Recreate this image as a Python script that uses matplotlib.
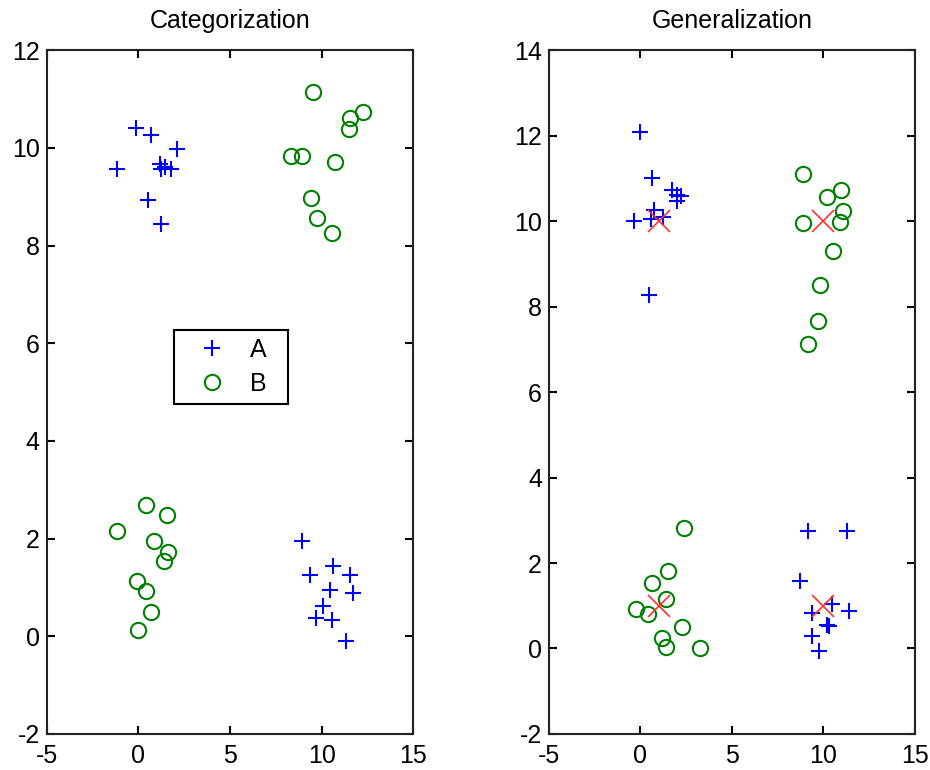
import matplotlib
matplotlib.use("Agg")
import matplotlib.pyplot as plt
from matplotlib.patches import Rectangle

plt.rcParams['font.family'] = ['Liberation Sans', 'DejaVu Sans']
plt.rcParams['axes.unicode_minus'] = False

# ---- Categorization data ----
catA_x = [-0.13, 0.67, 2.12, -1.18, 1.18, 1.22, 1.45, 1.80, 0.54, 1.23,
          8.92, 9.35, 10.61, 11.52, 10.43, 11.72, 10.07, 9.67, 10.58, 11.34]
catA_y = [10.41, 10.27, 9.97, 9.56, 9.68, 9.56, 9.60, 9.56, 8.93, 8.44,
          1.95, 1.25, 1.43, 1.25, 0.95, 0.89, 0.61, 0.37, 0.33, -0.09]
catB_x = [9.53, 12.26, 11.57, 11.48, 8.32, 8.90, 10.72, 9.44, 9.77, 10.54,
          0.40, 1.54, -1.18, 0.87, 1.63, 1.39, -0.09, 0.42, 0.67, 0.00]
catB_y = [11.14, 10.73, 10.61, 10.39, 9.83, 9.83, 9.71, 8.98, 8.56, 8.25,
          2.68, 2.49, 2.16, 1.95, 1.73, 1.54, 1.14, 0.93, 0.49, 0.12]

# ---- Generalization data ----
genA_x = [0.00, 0.65, 1.74, 2.00, 2.20, 2.00, -0.34, 0.73, 0.60, 1.23, 0.44,
          9.13, 11.31, 8.71, 10.45, 11.40, 9.35, 10.18, 10.30, 9.35, 9.73]
genA_y = [12.09, 11.01, 10.74, 10.62, 10.60, 10.47, 10.00, 10.27, 10.04, 10.09, 8.27,
          2.74, 2.74, 1.59, 1.03, 0.88, 0.83, 0.55, 0.53, 0.29, -0.05]
genB_x = [8.89, 10.22, 10.94, 11.09, 10.90, 8.90, 10.54, 9.80, 9.71, 9.13,
          2.38, 1.51, 0.64, 1.42, -0.25, 0.42, 2.27, 1.18, 1.38, 3.27]
genB_y = [11.11, 10.57, 10.74, 10.23, 9.98, 9.95, 9.30, 8.51, 7.67, 7.12,
          2.83, 1.81, 1.53, 1.16, 0.93, 0.81, 0.50, 0.25, 0.04, 0.00]
proto_x = [1, 10, 1, 10]
proto_y = [10, 10, 1, 1]

xticks = [-5, 0, 5, 10, 15]
cat_yticks = [-2, 0, 2, 4, 6, 8, 10, 12]
gen_yticks = [-2, 0, 2, 4, 6, 8, 10, 12, 14]

fig = plt.figure(figsize=(9.3, 7.7), dpi=100)
ax1 = fig.add_axes([0.0502, 0.0468, 0.3943, 0.888])
ax2 = fig.add_axes([0.5903, 0.0468, 0.3935, 0.888])

FS = 18
blue = (0, 0, 1)
green = (0, 0.5, 0)
red = (1, 0.2, 0.2)

def style(ax, yticks, title):
    ax.set_xlim(-5, 15)
    ax.set_ylim(yticks[0], yticks[-1])
    ax.set_xticks(xticks)
    ax.set_yticks(yticks)
    ax.tick_params(direction='in', length=6, width=1.5, top=True, right=True,
                   labelsize=FS, colors='black')
    ax.tick_params(axis='x', pad=7)
    ax.tick_params(axis='y', pad=5)
    for s in ax.spines.values():
        s.set_linewidth(1.5)
        s.set_color('#222222')
    ax.set_title(title, fontsize=FS, pad=16)

pA, = ax1.plot(catA_x, catA_y, '+', color=blue, ms=12, mew=1.5, ls='none', label='A')
pB, = ax1.plot(catB_x, catB_y, 'o', color=green, ms=11, mew=1.5, mfc='none', ls='none', label='B')
style(ax1, cat_yticks, 'Categorization')
leg = ax1.legend(loc='center left', bbox_to_anchor=(0.406, 0.5365), borderaxespad=0,
                 frameon=False, fontsize=FS, borderpad=0,
                 handlelength=1.32, handletextpad=0.84, labelspacing=0.4)
ax1.add_patch(Rectangle((0.347, 0.4825), 0.311, 0.1081, transform=ax1.transAxes,
                        facecolor='white', edgecolor='black', lw=1.5, zorder=4))
leg.set_zorder(5)

ax2.plot(genA_x, genA_y, '+', color=blue, ms=12, mew=1.5, ls='none')
ax2.plot(genB_x, genB_y, 'o', color=green, ms=11, mew=1.5, mfc='none', ls='none')
ax2.plot(proto_x, proto_y, 'x', color=red, ms=16, mew=1.2, ls='none')
style(ax2, gen_yticks, 'Generalization')

fig.savefig('out.png', dpi=100)
